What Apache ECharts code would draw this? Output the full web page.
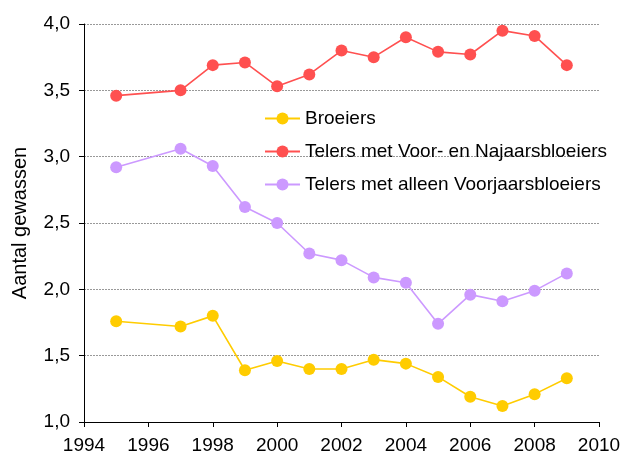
<!DOCTYPE html>
<html><head><meta charset="utf-8">
<script src="https://cdn.jsdelivr.net/npm/echarts@6/dist/echarts.min.js"></script>
<style>html,body{margin:0;padding:0;background:#fff}#c{width:621px;height:452px}</style>
</head><body><div id="c"></div>
<script>
const years = [1995,1997,1998,1999,2000,2001,2002,2003,2004,2005,2006,2007,2008,2009];
const broeiers = [1.76,1.72,1.80,1.39,1.46,1.40,1.40,1.47,1.44,1.34,1.19,1.12,1.21,1.33];
const voorNajaar = [3.46,3.50,3.69,3.71,3.53,3.62,3.80,3.75,3.90,3.79,3.77,3.95,3.91,3.69];
const alleenVoorjaar = [2.92,3.06,2.93,2.62,2.50,2.27,2.22,2.09,2.05,1.74,1.96,1.91,1.99,2.12];
const seriesNames = ['Broeiers','Telers met Voor- en Najaarsbloeiers','Telers met alleen Voorjaarsbloeiers'];
const colors = ['#FFCC00','#FF5050','#CC99FF'];
const yTitle = 'Aantal gewassen';

const FONT = 'Liberation Sans, Arial';
const pair = arr => years.map((y,i)=>[y,arr[i]]);
const mk = (name, data, color) => ({
  name, type:'line', data: pair(data), symbol:'circle', symbolSize:12,
  itemStyle:{color}, lineStyle:{color, width:1.6}, animation:false
});
const chart = echarts.init(document.getElementById('c'));
chart.setOption({
  animation:false,
  grid:{left:84,right:22,top:24,bottom:30,containLabel:false,outerBoundsMode:'none'},
  legend:{
    orient:'vertical', left:259, top:104, itemWidth:35, itemHeight:15, itemGap:14,
    textStyle:{fontFamily:FONT, fontSize:19, color:'#000'},
    data: seriesNames
  },
  xAxis:{type:'value', min:1994, max:2010, interval:2,
    axisLine:{lineStyle:{color:'#000'}}, axisTick:{show:true, length:5, lineStyle:{color:'#000'}},
    splitLine:{show:false},
    axisLabel:{fontFamily:FONT, fontSize:19, color:'#000', margin:14, formatter: v => String(v)}
  },
  yAxis:{type:'value', min:1, max:4, interval:0.5,
    name:yTitle, nameLocation:'middle', nameGap:54, nameRotate:90,
    nameTextStyle:{fontFamily:FONT, fontSize:20, color:'#000'},
    axisLine:{show:true, lineStyle:{color:'#000'}}, axisTick:{show:true, length:5, lineStyle:{color:'#000'}},
    splitLine:{lineStyle:{color:'#999', type:[2,1], width:1}},
    axisLabel:{fontFamily:FONT, fontSize:19, color:'#000', margin:14,
      formatter: v => v.toFixed(1).replace('.',',')}
  },
  series:[mk(seriesNames[0],broeiers,colors[0]), mk(seriesNames[1],voorNajaar,colors[1]), mk(seriesNames[2],alleenVoorjaar,colors[2])]
});
</script></body></html>
